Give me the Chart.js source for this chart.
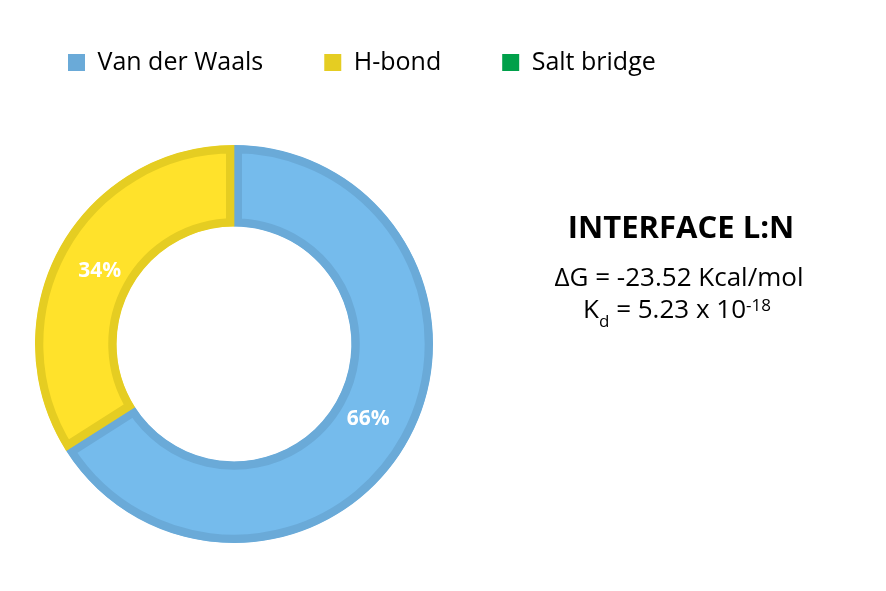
<!DOCTYPE html>
<html>
<head>
<meta charset="utf-8">
<script src="https://cdn.jsdelivr.net/npm/chart.js@4/dist/chart.umd.min.js"></script>
<style>
  html, body { margin: 0; padding: 0; background: #fff; }
  #wrap { width: 886px; height: 591px; position: relative; }
</style>
</head>
<body>
<div id="wrap"><canvas id="pie"></canvas></div>
<script>
// datos
const categories = ['Van der Waals', 'H-bond', 'Salt bridge'];
const percentages = [66, 34, 0];
const fillColors = ['#75BBEC', '#FFE22B', '#00A04A'];
const edgeColors = ['#6AAAD8', '#E5CD22', '#00A04A'];

const FONT = '"Open Sans", Lato, sans-serif';

// el donut va a la izquierda, el texto a la derecha
const plotArea = { left: 35, top: 145, right: 433, bottom: 543 };

const placeArea = {
    id: 'placeArea',
    afterLayout(chart) {
        const ca = chart.chartArea;
        ca.left = plotArea.left;
        ca.top = plotArea.top;
        ca.right = plotArea.right;
        ca.bottom = plotArea.bottom;
        ca.width = ca.right - ca.left;
        ca.height = ca.bottom - ca.top;
    }
};

// etiquetas de porcentaje sobre cada sector
const sliceLabels = {
    id: 'sliceLabels',
    afterDatasetsDraw(chart) {
        const ctx = chart.ctx;
        const meta = chart.getDatasetMeta(0);
        ctx.save();
        ctx.fillStyle = '#ffffff';
        ctx.font = 'bold 21px ' + FONT;
        ctx.textAlign = 'center';
        ctx.textBaseline = 'middle';
        meta.data.forEach((arc, i) => {
            if (!percentages[i]) return;
            const a = arc.getProps(['x', 'y', 'startAngle', 'endAngle', 'innerRadius', 'outerRadius']);
            const mid = (a.startAngle + a.endAngle) / 2;
            const r = (a.innerRadius + a.outerRadius) / 2 - 5;
            ctx.fillText(percentages[i] + '%', a.x + Math.cos(mid) * r, a.y + Math.sin(mid) * r + 1);
        });
        ctx.restore();
    }
};

// bloque de texto de la derecha
const sideText = {
    id: 'sideText',
    afterDraw(chart) {
        const ctx = chart.ctx;
        ctx.save();
        ctx.fillStyle = '#000000';
        ctx.textBaseline = 'alphabetic';
        ctx.textAlign = 'center';
        ctx.font = 'bold 31px ' + FONT;
        ctx.fillText('INTERFACE L:N', 681, 238);
        ctx.font = '26px ' + FONT;
        ctx.fillText('\u0394G = -23.52 Kcal/mol', 679, 286);

        // K_d = 5.23 x 10^-18
        ctx.textAlign = 'left';
        const big = '26px ' + FONT, small = '17px ' + FONT;
        const parts = [
            ['K', big, 0],
            ['d', small, 9],
            [' = 5.23 x 10', big, 0],
            ['-18', small, -7]
        ];
        let total = 0;
        parts.forEach(p => { ctx.font = p[1]; total += ctx.measureText(p[0]).width; });
        let x = 677 - total / 2;
        parts.forEach(p => {
            ctx.font = p[1];
            ctx.fillText(p[0], x, 318 + p[2]);
            x += ctx.measureText(p[0]).width;
        });
        ctx.restore();
    }
};

const chart = new Chart(document.getElementById('pie'), {
    type: 'doughnut',
    data: {
        labels: categories,
        datasets: [{
            data: percentages,
            backgroundColor: fillColors,
            borderColor: edgeColors,
            borderWidth: 8,
            borderAlign: 'inner'
        }]
    },
    options: {
        responsive: true,
        maintainAspectRatio: false,
        animation: false,
        cutout: '59%',
        layout: { padding: { left: 7, top: -11 } },
        plugins: {
            tooltip: { enabled: false },
            legend: {
                position: 'top',
                align: 'start',
                labels: {
                    boxWidth: 17,
                    boxHeight: 17,
                    padding: 61,
                    color: '#000000',
                    font: { family: FONT, size: 25 },
                    generateLabels(c) {
                        return categories.map((name, i) => ({
                            text: name,
                            fillStyle: edgeColors[i],
                            strokeStyle: edgeColors[i],
                            lineWidth: 0,
                            hidden: false,
                            index: i
                        }));
                    }
                }
            }
        }
    },
    plugins: [placeArea, sliceLabels, sideText]
});
</script>
</body>
</html>
